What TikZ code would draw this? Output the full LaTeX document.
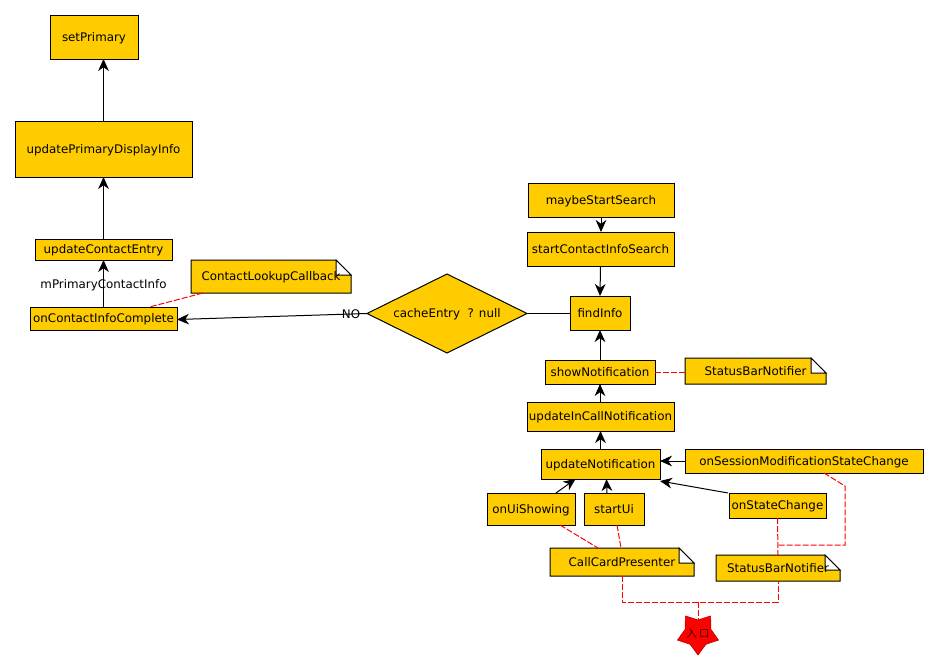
\documentclass[tikz,border=0pt]{standalone}
\usepackage{fontspec}
\setmainfont{DejaVu Sans}
\newfontfamily\cjkfont{Noto Sans CJK SC}
\usetikzlibrary{arrows.meta,shapes.geometric,calc}
\pgfdeclarelayer{back}
\pgfsetlayers{back,main}
\tikzset{
  x=0.75pt,y=-0.75pt,
  base/.style={font=\fontsize{8.9}{10}\selectfont,text=black,inner sep=0pt,outer sep=0pt,line width=0.75pt,text height=7.2pt,text depth=1pt},
  box/.style 2 args={base,draw=black,fill=boxgold,minimum width=#1*0.75pt,minimum height=#2*0.75pt},
  notebox/.style 2 args={base,minimum width=#1*0.75pt,minimum height=#2*0.75pt},
  tag/.style={base},
  flow/.style={line width=0.75pt,draw=black,-{Stealth[length=9pt,width=8pt,inset=2.8pt]}},
  plain/.style={line width=0.75pt,draw=black},
  link/.style={line width=0.75pt,draw=red,dash pattern=on 4.5pt off 1.5pt},
  notebody/.style={fill=boxgold,draw=black,line width=0.75pt,line join=miter},
  notefold/.style={fill=white,draw=black,line width=0.75pt},
}
\definecolor{boxgold}{HTML}{FFCC00}
% Folded-corner outline drawn behind a note's text
\newcommand{\foldnote}[1]{%
  \begin{pgfonlayer}{back}
    \path[notebody] (#1.north west) -- ([xshift=-11.25pt]#1.north east)
      -- ([yshift=-11.25pt]#1.north east) -- (#1.south east) -- (#1.south west) -- cycle;
    \path[notefold] ([xshift=-11.25pt]#1.north east) -- ([xshift=-11.25pt,yshift=-11.25pt]#1.north east)
      -- ([yshift=-11.25pt]#1.north east) -- cycle;
  \end{pgfonlayer}}
\begin{document}
\begin{tikzpicture}
\useasboundingbox (0,0) rectangle (939,671);

% left column
\node[box={88}{44}] (primary) at (94,37) {setPrimary};
\node[box={177}{56}] (display) at (103.5,149) {updatePrimaryDisplayInfo};
\node[box={137}{21}] (entry) at (103.5,249.5) {updateContactEntry};
\node[box={147}{23}] (complete) at (103.5,318.5) {onContactInfoComplete};
\node[notebox={160}{33}] (callback) at (271,276.5) {ContactLookupCallback};
\foldnote{callback}
\node[tag] (field) at (103.5,284) {mPrimaryContactInfo};

% decision
\node[diamond,aspect=2,base,draw=black,fill=boxgold,minimum width=160*0.75pt,minimum height=79*0.75pt] (cache) at (447,313.5) {cacheEntry\ \ ? null};
\node[tag] (no) at (351,314.5) {NO};

% right column
\node[box={146}{34}] (maybe) at (601,200) {maybeStartSearch};
\node[box={147}{34}] (start) at (600.5,249) {startContactInfoSearch};
\node[box={60}{34}] (find) at (600,313) {findInfo};
\node[box={110}{24}] (show) at (600,372) {showNotification};
\node[notebox={141}{26}] (barone) at (755.5,371) {StatusBarNotifier};
\foldnote{barone}
\node[box={147}{29}] (incall) at (600.5,416.5) {updateInCallNotification};
\node[box={119}{30}] (update) at (600.5,464) {updateNotification};
\node[box={238}{24}] (session) at (804,461) {onSessionModificationStateChange};
\node[box={88}{32}] (showing) at (531,509) {onUiShowing};
\node[box={60}{32}] (startui) at (614,509) {startUi};
\node[box={97}{25}] (state) at (777.5,505.5) {onStateChange};
\node[notebox={144}{28}] (presenter) at (622,562) {CallCardPresenter};
\foldnote{presenter}
\node[notebox={124}{26}] (bartwo) at (778,568) {StatusBarNotifier};
\foldnote{bartwo}
\node[star,star points=5,star point ratio=1.6,shape border rotate=180,draw=red!70!black,fill=red,line width=0.4pt,inner sep=0pt,outer sep=0pt,minimum size=43.2*0.75pt,label={[inner sep=0pt,text=black!80!red,font=\cjkfont\fontsize{8}{10}\selectfont]center:入\,口}] (entrance) at (698,633.4) {};
\coordinate (busleft) at (presenter.south |- 0,602);
\coordinate (busright) at (bartwo.south |- 0,602);
\coordinate (busmid) at (entrance.center |- 0,602);
\coordinate (sidejoin) at (845,486);
\coordinate (sidefoot) at (845,545);
\coordinate (statefoot) at (bartwo.north |- 0,545);

% call flow
\draw[flow] (display.north) -- (display.north |- primary.south);
\draw[flow] (entry.north) -- (display.south);
\draw[flow] (complete.north) -- (entry.south);
\draw[flow] (cache.west) -- ([yshift=-0.75pt]complete.east);
\draw[plain] (find.west) -- (find.west -| cache.east);
\draw[flow] (maybe.south) -- (maybe.south |- start.north);
\draw[flow] (start.south) -- (find.north);
\draw[flow] (show.north) -- (find.south);
\draw[flow] (incall.north) -- (incall.north -| show.south) -- (show.south);
\draw[flow] (update.north) -- (incall.south);
\draw[flow] (session.west) -- (session.west -| update.east);
\draw[flow] ([xshift=-0.75pt]state.north west) -- ([yshift=-1.5pt]update.south east);
\draw[flow] ([xshift=18.75pt]showing.north) -- ([xshift=-18.75pt]update.south);
\draw[flow] ([xshift=-5.25pt]startui.north) -- ([xshift=4.5pt]update.south);

% class links
\draw[link] ([xshift=-51pt]callback.south) -- ([xshift=34.5pt]complete.north);
\draw[link] (show.east) -- (show.east -| barone.west);
\draw[link] ([xshift=21.75pt]showing.south) -- ([xshift=-18pt]presenter.north);
\draw[link] ([xshift=2.25pt]startui.south) -- ([xshift=-0.75pt]presenter.north);
\draw[link] (state.south) -- (bartwo.north);
\draw[link] ([xshift=15pt]session.south) -- (sidejoin) -- (sidefoot) -- (statefoot);
\draw[link] (presenter.south) -- (busleft) -- (busright) -- (bartwo.south);
\draw[link] (busmid) -- ([yshift=10pt]entrance.center);
\end{tikzpicture}
\end{document}
